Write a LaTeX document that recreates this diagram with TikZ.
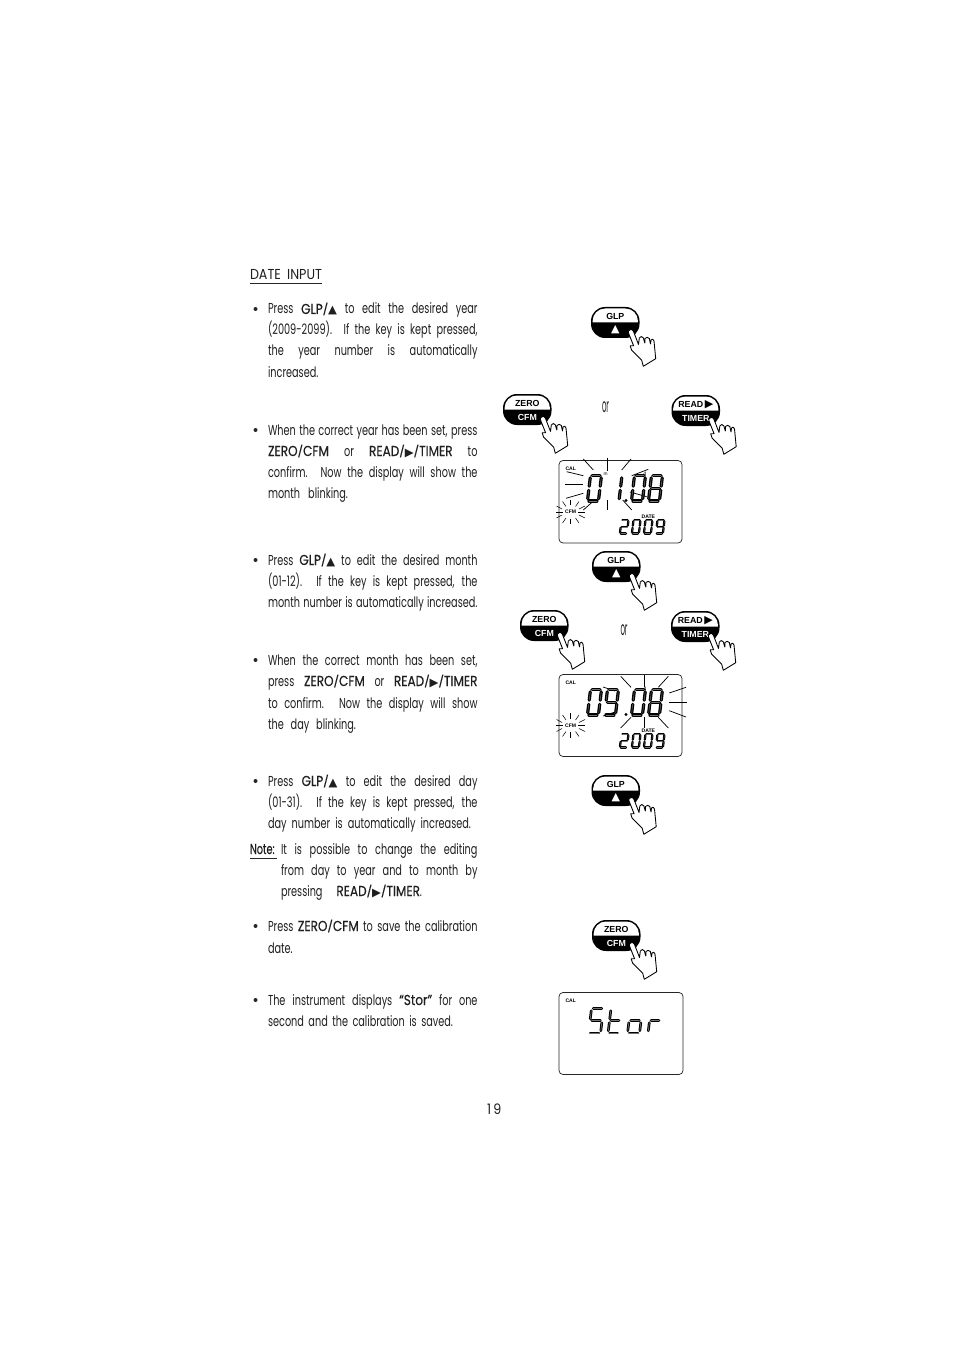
\documentclass[tikz,border=0pt]{standalone}
\usepackage{fontspec}
\setmainfont[FakeStretch=0.675]{Poppins}
\newfontfamily\kfont[FakeStretch=0.84,FakeBold=0.3]{Poppins}
\newfontfamily\hfont[FakeStretch=0.88]{Poppins}
\newfontfamily\lcd{Liberation Sans}[BoldFont={Liberation Sans Bold}]
\newfontfamily\sym{DejaVu Sans}
\newdimen\px \px=.75pt
\newcommand\SL{\raisebox{.5pt}{\scalebox{.95}[.78]{/}}}
\newcommand\K[1]{{\kfont #1}}
\newcommand\UP{{\sym\scalebox{.8}{▲}}}
\newcommand\RT{{\sym\scalebox{.8}{▶}}}
\newcommand\BUP{{\sym\scalebox{1.25}{▲}}}
\newcommand\BRT{{\sym\scalebox{1.25}{▶}}}
\newcommand\tl[5]{\node[txt] (#1) at (#2,#3+5) {\makebox[#4\px][s]{#5}};}
\newcommand\bul[2]{\node[bullet dot] (#1) at (255.5,#2) {};}
\def\segw{2.4pt}
\def\segi{.35pt}
\newcommand\sev[5]{\begin{scope}[shift={(#1,#2)},xslant=.12,x=#3*\px,y=-#4*\px]
 \foreach \s in {#5}{\pic[transform shape] {seg \s};}\end{scope}}
\newcommand\sevsmall[5]{\begingroup\def\segw{1.7pt}\def\segi{.15pt}\sev{#1}{#2}{#3}{#4}{#5}\endgroup}
\newcommand\sevword[5]{\begingroup\def\segw{2.0pt}\def\segi{.5pt}\sev{#1}{#2}{#3}{#4}{#5}\endgroup}
\tikzset{
 x=\px,y=-\px,
 txt/.style={anchor=base west,inner sep=0pt,outer sep=0pt,font=\fontsize{10.8pt}{12pt}\selectfont,text=black!88},
 bullet dot/.style={circle,fill=black!85,inner sep=0pt,minimum size=4\px},
 lcdbox/.style={draw=black!85,line width=.55pt,rounded corners=3pt},
 ray/.style={draw=black,line width=.55pt},
 lab/.style={inner sep=0pt,font=\lcd\bfseries\fontsize{3.8pt}{4pt}\selectfont},
 segline/.style={draw=black,line width=\segw,line cap=round},
 seginner/.style={draw=white!45!black,line width=\segi,line cap=round},
 pics/seg a/.style={code={\draw[segline](.14,0)--(.86,0);\draw[seginner](.14,0)--(.86,0);}},
 pics/seg b/.style={code={\draw[segline](1,.09)--(1,.42);\draw[seginner](1,.09)--(1,.42);}},
 pics/seg c/.style={code={\draw[segline](1,.58)--(1,.91);\draw[seginner](1,.58)--(1,.91);}},
 pics/seg d/.style={code={\draw[segline](.14,1)--(.86,1);\draw[seginner](.14,1)--(.86,1);}},
 pics/seg e/.style={code={\draw[segline](0,.58)--(0,.91);\draw[seginner](0,.58)--(0,.91);}},
 pics/seg f/.style={code={\draw[segline](0,.09)--(0,.42);\draw[seginner](0,.09)--(0,.42);}},
 pics/seg g/.style={code={\draw[segline](.14,.5)--(.86,.5);\draw[seginner](.14,.5)--(.86,.5);}},
 pics/keybtn/.style 2 args={code={
  \fill[black,rounded corners=14\px] (0,0) rectangle (48.5,31);
  \fill[white] (1.6,15.5) [rounded corners=12.5\px] -- (1.6,1.5) -- (46.9,1.5) [sharp corners] -- (46.9,15.5) -- cycle;
  \node[inner sep=0pt,font=\lcd\bfseries\fontsize{6.6pt}{7pt}\selectfont] (-top) at (24.3,9.4) {#1};
  \node[inner sep=0pt,text=white,font=\lcd\bfseries\fontsize{6.6pt}{7pt}\selectfont] (-bot) at (24.3,23) {#2};
  \draw[black,fill=white,line width=.65pt,line join=round]
   (39,22.7) .. controls (40.5,21.8) and (41.5,22.5) .. (42.5,24.5) -- (47.5,37.5)
   -- (48.3,31) .. controls (49,29.2) and (51.5,29) .. (52.3,30.8) -- (53.8,36)
   -- (54,31.5) .. controls (54.8,30) and (57.5,30) .. (58.3,31.5) -- (59.5,37)
   -- (60,33) .. controls (61,31.5) and (62.5,32) .. (63,34) -- (64.7,51.7)
   -- (52.3,59.3) -- (50.7,53.3) -- (40.7,43.3) -- (39.2,38.8) -- (42.6,38.8)
   -- (37.5,26) .. controls (37,24.5) and (37.6,23.4) .. (39,22.7) -- cycle;
 }},
}
\begin{document}
\begin{tikzpicture}
\useasboundingbox[fill=white] (0,0) rectangle (954,1351);
% text column
\node[txt] (head) at (250,279.5) {\makebox[72\px][s]{\hfont DATE INPUT}};
\draw[black!85,line width=.6pt] (250,283.5) -- (322,283.5);
\bul{b1}{309}
\tl{l1}{268}{309}{209.5}{Press \K{GLP\SL\UP} to edit the desired year}
\tl{l2}{268}{330}{209.5}{(2009-2099). If the key is kept pressed,}
\tl{l3}{268}{351}{209.5}{the year number is automatically}
\tl{l4}{268}{373}{50}{increased.}
\bul{b2}{430}
\tl{l5}{268}{430}{209.5}{When the correct year has been set, press}
\tl{l6}{268}{451}{209.5}{\K{ZERO\SL CFM} or \K{READ\SL\RT\SL TIMER} to}
\tl{l7}{268}{472}{209.5}{confirm. Now the display will show the}
\tl{l8}{268}{493}{80}{month blinking.}
\bul{b3}{560}
\tl{l9}{268}{560}{209.5}{Press \K{GLP\SL\UP} to edit the desired month}
\tl{l10}{268}{581}{209.5}{(01-12). If the key is kept pressed, the}
\tl{l11}{268}{602}{209.5}{month number is automatically increased.}
\bul{b4}{660}
\tl{l12}{268}{660}{209.5}{When the correct month has been set,}
\tl{l13}{268}{681}{209.5}{press \K{ZERO\SL CFM} or \K{READ\SL\RT\SL TIMER}}
\tl{l14}{268}{703}{209.5}{to confirm. Now the display will show}
\tl{l15}{268}{724}{88}{the day blinking.}
\bul{b5}{781}
\tl{l16}{268}{781}{209.5}{Press \K{GLP\SL\UP} to edit the desired day}
\tl{l17}{268}{802}{209.5}{(01-31). If the key is kept pressed, the}
\tl{l18}{268}{823}{203}{day number is automatically increased.}
\node[txt] (n0) at (250,854) {\scalebox{.8}[1]{\K{Note:}}};
\draw[black!85,line width=.6pt] (250,858) -- (277,858);
\tl{n1}{281}{849}{196.5}{It is possible to change the editing}
\tl{n2}{281}{870}{196.5}{from day to year and to month by}
\tl{n3}{281}{891}{141}{pressing \K{READ\SL\RT\SL TIMER}.}
\bul{b6}{926}
\tl{l19}{268}{926}{209.5}{Press \K{ZERO\SL CFM} to save the calibration}
\tl{l20}{268}{948}{26}{date.}
\bul{b7}{1000}
\tl{l21}{268}{1000}{209.5}{The instrument displays \K{“Stor”} for one}
\tl{l22}{268}{1021}{185}{second and the calibration is saved.}
\node[txt] (pg) at (487,1114) {\hfont 1\,9};
% keys
\pic (k1) at (591,307) {keybtn={GLP}{\BUP}};
\pic (k2) at (503,394) {keybtn={ZERO}{CFM}};
\pic (k3) at (671.5,395) {keybtn={READ\,\BRT}{TIMER}};
\pic (k4) at (592,551) {keybtn={GLP}{\BUP}};
\pic (k5) at (520,610) {keybtn={ZERO}{CFM}};
\pic (k6) at (671,611) {keybtn={READ\,\BRT}{TIMER}};
\pic (k7) at (591.5,775) {keybtn={GLP}{\BUP}};
\pic (k8) at (592,920) {keybtn={ZERO}{CFM}};
\node[txt] (or1) at (602,412.5) {\scalebox{.72}[1.35]{or}};
\node[txt] (or2) at (620.5,635.5) {\scalebox{.72}[1.35]{or}};
% display 1
\draw[lcdbox] (559,460.5) rectangle (682,543);
\foreach \a/\b/\c/\d in {583.3/459/593.3/470,607.3/457.7/607.3/471,631/459/621.7/470,566.7/471.7/583.3/475.7,565/484.3/583.3/484.3,566/498.3/583.3/493.3,583.3/510/592.7/501.7,607.3/500/607.3/510,622.7/500/631.7/510,631.7/475.7/648.3/469.3,630/492/646.7/496.7}
 {\draw[ray] (\a,\b) -- (\c,\d);}
\sev{590.5}{475.5}{11}{25.5}{a,b,c,d,e,f}
\sev{611}{475.5}{11}{25.5}{b,c}
\fill (626,500.5) circle (1.6\px);
\sev{634.5}{475.5}{11}{25.5}{a,b,c,d,e,f}
\sev{651.5}{475.5}{11}{25.5}{a,b,c,d,e,f,g}
\sevsmall{621.5}{520}{7}{13.5}{a,b,g,e,d}
\sevsmall{633.5}{520}{7}{13.5}{a,b,c,d,e,f}
\sevsmall{645.5}{520}{7}{13.5}{a,b,c,d,e,f}
\sevsmall{657.5}{520}{7}{13.5}{a,b,f,g,c,d}
\node[lab] (cal1) at (570.7,468.3) {CAL};
\node[lab] (cfm1) at (570.7,511.7) {CFM};
\node[lab] (date1) at (648.3,516.7) {DATE};
\node[lab,font=\lcd\fontsize{3.6pt}{4pt}\selectfont] (m1) at (605.7,474.3) {m};
\node[lab,font=\lcd\fontsize{3.6pt}{4pt}\selectfont] (d1) at (645,474) {d};
\foreach \a/\b/\c/\d in {570.7/499.5/570.7/505,570.7/518.5/570.7/524,556/512/563/512,578/512/585/512,562.5/501.5/566/506.5,579/501.5/575.5/506.5,562.5/523/566/518,579/523/575.5/518,556.5/506/562/509,556.5/518/562/515,585/506/579/509,585/518/579/515}
 {\draw[ray,line width=.4pt] (\a,\b) -- (\c,\d);}
% display 2
\draw[lcdbox] (559,674.5) rectangle (682,756.5);
\foreach \a/\b/\c/\d in {620.7/676.3/631/687.3,644.3/675.3/644.3/687.3,668.3/676.3/658.3/687.3,669.3/693/686/687.3,669.3/702/686.7/702,669.3/710.7/686/717,668.3/728/658.3/717.3,644.3/717.3/644.3/728,620.7/728/631/717.3,603/687/615/691,603/716/615/712}
 {\draw[ray] (\a,\b) -- (\c,\d);}
\sev{590.5}{689.5}{11}{25.5}{a,b,c,d,e,f}
\sev{607.5}{689.5}{11}{25.5}{a,b,f,g,c,d}
\fill (626,714.5) circle (1.6\px);
\sev{634.5}{689.5}{11}{25.5}{a,b,c,d,e,f}
\sev{651.5}{689.5}{11}{25.5}{a,b,c,d,e,f,g}
\sevsmall{621.5}{734}{7}{13.5}{a,b,g,e,d}
\sevsmall{633.5}{734}{7}{13.5}{a,b,c,d,e,f}
\sevsmall{645.5}{734}{7}{13.5}{a,b,c,d,e,f}
\sevsmall{657.5}{734}{7}{13.5}{a,b,f,g,c,d}
\node[lab] (cal2) at (570.7,683) {CAL};
\node[lab] (cfm2) at (570.7,725.3) {CFM};
\node[lab] (date2) at (648.3,730.3) {DATE};
\node[lab,font=\lcd\fontsize{3.6pt}{4pt}\selectfont] (d2) at (645,688.7) {d};
\foreach \a/\b/\c/\d in {570.7/713/570.7/718.5,570.7/732/570.7/737.5,556/725.5/563/725.5,578/725.5/585/725.5,562.5/715/566/720,579/715/575.5/720,562.5/736.5/566/731.5,579/736.5/575.5/731.5,556.5/719.5/562/722.5,556.5/731.5/562/728.5,585/719.5/579/722.5,585/731.5/579/728.5}
 {\draw[ray,line width=.4pt] (\a,\b) -- (\c,\d);}
% display 3
\draw[lcdbox] (559,992.5) rectangle (683,1074.5);
\node[lab] (cal3) at (570.7,1000.7) {CAL};
\sevword{591.5}{1008.5}{12}{24.5}{a,f,g,c,d}
\sevword{611}{1008.5}{11}{24.5}{f,g,e,d}
\sevword{630.5}{1008.5}{12}{24.5}{g,c,d,e}
\sevword{651}{1008.5}{11}{24.5}{g,e}
\end{tikzpicture}
\end{document}
